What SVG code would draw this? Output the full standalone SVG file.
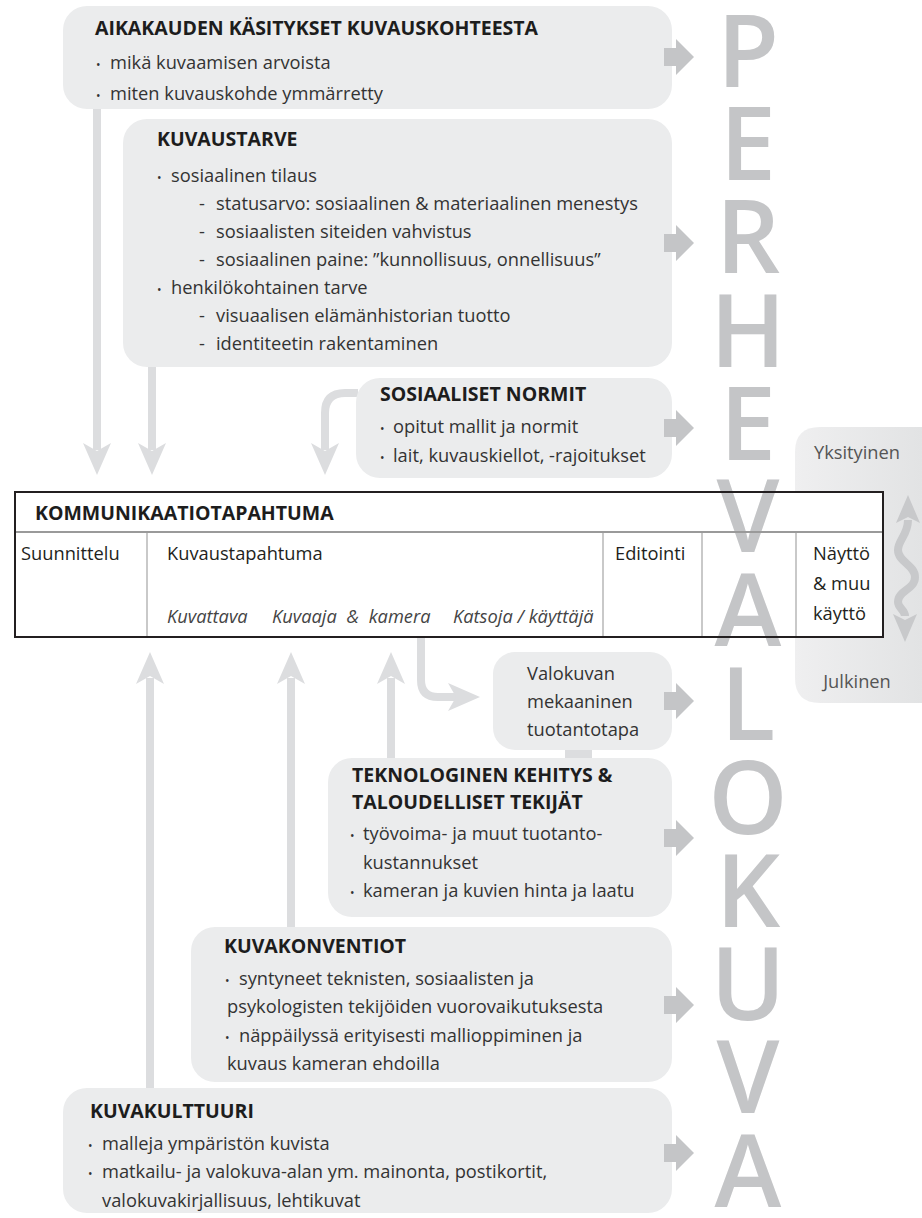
<svg xmlns="http://www.w3.org/2000/svg" width="922" height="1218" viewBox="0 0 922 1218">
<defs>
<linearGradient id="ygrad" x1="0" y1="0" x2="1" y2="0">
<stop offset="0" stop-color="#efeff0"/><stop offset="1" stop-color="#e2e3e4"/>
</linearGradient>
<path id="hd" d="M0 0 L-14 -32 L0 -24 L14 -32 Z"/>
<path id="hs" d="M0 0 L-12 -28 L0 -22 L12 -28 Z"/>
<path id="blk" d="M-30 -9 H-18 V-18 L0 0 L-18 18 V9 H-30 Z"/>
</defs>
<style>
.box{fill:#ebeced}
.t{font-family:"Open Sans","Noto Sans",sans-serif;font-size:18.3px;fill:#333}
.h{font-family:"Open Sans","Noto Sans",sans-serif;font-size:19.5px;font-weight:700;fill:#1d1d1d}
.b{font-size:12px}
.i{font-style:italic;fill:#444}
.big{font-family:"Open Sans","Noto Sans",sans-serif;font-size:101px;font-weight:600;fill:#c4c5c7;text-anchor:middle}
.conn{stroke:#dcdddf;stroke-width:8;fill:none}
.ah{fill:#dcdddf}
.bk{fill:#c4c5c7}
.wv{stroke:#c8c9cb;stroke-width:8;fill:none}
.wh{fill:#c8c9cb}
</style>

<g id="yksityinen-julkinen">
<path d="M820 427 H922 V703 H820 Q795 703 795 678 V452 Q795 427 820 427 Z" fill="url(#ygrad)"/>
<text class="t" x="857" y="459" text-anchor="middle" style="fill:#555">Yksityinen</text>
<text class="t" x="857" y="688" text-anchor="middle" style="fill:#555">Julkinen</text>
</g>

<g id="connectors">
<line class="conn" x1="97" y1="109" x2="97" y2="450"/>
<use href="#hd" class="ah" transform="translate(97 475)"/>
<line class="conn" x1="152" y1="367" x2="152" y2="450"/>
<use href="#hd" class="ah" transform="translate(152 475)"/>
<path class="conn" d="M358 393 H345 Q325 393 325 413 V450"/>
<use href="#hd" class="ah" transform="translate(325 475)"/>
<line class="conn" x1="150" y1="1090" x2="150" y2="678"/>
<use href="#hd" class="ah" transform="translate(150 652) rotate(180)"/>
<line class="conn" x1="291" y1="929" x2="291" y2="678"/>
<use href="#hd" class="ah" transform="translate(291 652) rotate(180)"/>
<line class="conn" x1="391" y1="760" x2="391" y2="678"/>
<use href="#hd" class="ah" transform="translate(391 652) rotate(180)"/>
<path class="conn" d="M421 637 V680 Q421 697 438 697 H456"/>
<use href="#hd" class="ah" transform="translate(480 697) rotate(-90)"/>
<rect x="565" y="748" width="27" height="12" class="ah"/>
<path class="wv" d="M908 520 C908 535 898 540 898 550 C898 562 915 565 915 577 C915 590 898 590 898 602 C898 608 905 610 905 616"/>
<use href="#hs" class="wh" transform="translate(908 495) rotate(180)"/>
<use href="#hs" class="wh" transform="translate(905 642)"/>
</g>

<g id="aikakauden">
<rect class="box" x="63" y="6" width="609" height="103" rx="24"/>
<text class="h" x="95" y="35">AIKAKAUDEN KÄSITYKSET KUVAUSKOHTEESTA</text>
<text class="t" y="69"><tspan class="b" x="96">•</tspan><tspan x="110">mikä kuvaamisen arvoista</tspan></text>
<text class="t" y="100"><tspan class="b" x="96">•</tspan><tspan x="110">miten kuvauskohde ymmärretty</tspan></text>
</g>

<g id="kuvaustarve">
<rect class="box" x="123" y="119" width="549" height="248" rx="24"/>
<text class="h" x="157" y="146">KUVAUSTARVE</text>
<text class="t" y="182"><tspan class="b" x="157">•</tspan><tspan x="171">sosiaalinen tilaus</tspan></text>
<text class="t" y="210"><tspan x="199">-</tspan><tspan x="216">statusarvo: sosiaalinen &amp; materiaalinen menestys</tspan></text>
<text class="t" y="238"><tspan x="199">-</tspan><tspan x="216">sosiaalisten siteiden vahvistus</tspan></text>
<text class="t" y="266"><tspan x="199">-</tspan><tspan x="216">sosiaalinen paine: ”kunnollisuus, onnellisuus”</tspan></text>
<text class="t" y="294"><tspan class="b" x="157">•</tspan><tspan x="171">henkilökohtainen tarve</tspan></text>
<text class="t" y="322"><tspan x="199">-</tspan><tspan x="216">visuaalisen elämänhistorian tuotto</tspan></text>
<text class="t" y="350"><tspan x="199">-</tspan><tspan x="216">identiteetin rakentaminen</tspan></text>
</g>

<g id="sosiaaliset-normit">
<rect class="box" x="356" y="378" width="316" height="100" rx="24"/>
<text class="h" x="380" y="401">SOSIAALISET NORMIT</text>
<text class="t" y="433"><tspan class="b" x="380">•</tspan><tspan x="393">opitut mallit ja normit</tspan></text>
<text class="t" y="462"><tspan class="b" x="380">•</tspan><tspan x="393">lait, kuvauskiellot, -rajoitukset</tspan></text>
</g>

<g id="kommunikaatiotapahtuma">
<rect x="15" y="492" width="868" height="145" fill="#fff"/>
<g id="perhevalokuva-upper">
<text class="big" x="748" y="552">V</text>
<text class="big" x="748" y="646">A</text>
</g>
<line x1="16" y1="532" x2="882" y2="532" stroke="#9a9a9a" stroke-width="2"/>
<line x1="147" y1="533" x2="147" y2="636" stroke="#c9c9c9" stroke-width="2"/>
<line x1="603" y1="533" x2="603" y2="636" stroke="#c9c9c9" stroke-width="2"/>
<line x1="702" y1="533" x2="702" y2="636" stroke="#c9c9c9" stroke-width="2"/>
<line x1="796" y1="533" x2="796" y2="636" stroke="#c9c9c9" stroke-width="2"/>
<rect x="15" y="492" width="868" height="145" fill="none" stroke="#231f20" stroke-width="2"/>
<text class="h" x="35" y="520">KOMMUNIKAATIOTAPAHTUMA</text>
<text class="t" x="21" y="560" style="fill:#231f20">Suunnittelu</text>
<text class="t" x="167" y="560" style="fill:#231f20">Kuvaustapahtuma</text>
<text class="t" x="615" y="560" style="fill:#231f20">Editointi</text>
<text class="t" x="813" y="560" style="fill:#231f20">Näyttö</text>
<text class="t" x="813" y="590" style="fill:#231f20">&amp; muu</text>
<text class="t" x="813" y="620" style="fill:#231f20">käyttö</text>
<text class="t i" x="167" y="623">Kuvattava</text>
<text class="t i" x="272" y="623" word-spacing="5">Kuvaaja &amp; kamera</text>
<text class="t i" x="453" y="623">Katsoja / käyttäjä</text>
</g>

<g id="valokuvan-tuotantotapa">
<rect class="box" x="493" y="652" width="179" height="98" rx="22"/>
<text class="t" x="527" y="680">Valokuvan</text>
<text class="t" x="527" y="708">mekaaninen</text>
<text class="t" x="527" y="736">tuotantotapa</text>
</g>

<g id="teknologinen">
<rect class="box" x="328" y="758" width="344" height="159" rx="24"/>
<text class="h" x="352" y="782">TEKNOLOGINEN KEHITYS &amp;</text>
<text class="h" x="352" y="809">TALOUDELLISET TEKIJÄT</text>
<text class="t" y="840"><tspan class="b" x="350">•</tspan><tspan x="363">työvoima- ja muut tuotanto-</tspan></text>
<text class="t" x="363" y="869">kustannukset</text>
<text class="t" y="897"><tspan class="b" x="350">•</tspan><tspan x="363">kameran ja kuvien hinta ja laatu</tspan></text>
</g>

<g id="kuvakonventiot">
<rect class="box" x="191" y="927" width="481" height="155" rx="24"/>
<text class="h" x="224" y="953">KUVAKONVENTIOT</text>
<text class="t" y="985"><tspan class="b" x="225">•</tspan><tspan x="239">syntyneet teknisten, sosiaalisten ja</tspan></text>
<text class="t" x="227" y="1013">psykologisten tekijöiden vuorovaikutuksesta</text>
<text class="t" y="1042"><tspan class="b" x="225">•</tspan><tspan x="239">näppäilyssä erityisesti mallioppiminen ja</tspan></text>
<text class="t" x="227" y="1070">kuvaus kameran ehdoilla</text>
</g>

<g id="kuvakulttuuri">
<rect class="box" x="63" y="1088" width="609" height="125" rx="24"/>
<text class="h" x="90" y="1118">KUVAKULTTUURI</text>
<text class="t" y="1150"><tspan class="b" x="88">•</tspan><tspan x="102">malleja ympäristön kuvista</tspan></text>
<text class="t" y="1178"><tspan class="b" x="88">•</tspan><tspan x="102">matkailu- ja valokuva-alan ym. mainonta, postikortit,</tspan></text>
<text class="t" x="102" y="1207">valokuvakirjallisuus, lehtikuvat</text>
</g>

<g id="block-arrows">
<use href="#blk" class="bk" transform="translate(694 57)"/>
<use href="#blk" class="bk" transform="translate(694 243)"/>
<use href="#blk" class="bk" transform="translate(694 428)"/>
<use href="#blk" class="bk" transform="translate(694 701)"/>
<use href="#blk" class="bk" transform="translate(694 838)"/>
<use href="#blk" class="bk" transform="translate(694 1005)"/>
<use href="#blk" class="bk" transform="translate(694 1153)"/>
</g>

<g id="perhevalokuva">
<text class="big" x="748" y="87">P</text>
<text class="big" x="748" y="180">E</text>
<text class="big" x="748" y="273">R</text>
<text class="big" x="748" y="367">H</text>
<text class="big" x="748" y="460">E</text>
<text class="big" x="748" y="740">L</text>
<text class="big" x="748" y="834">O</text>
<text class="big" x="748" y="927">K</text>
<text class="big" x="748" y="1020">U</text>
<text class="big" x="748" y="1113">V</text>
<text class="big" x="748" y="1207">A</text>
</g>
</svg>
